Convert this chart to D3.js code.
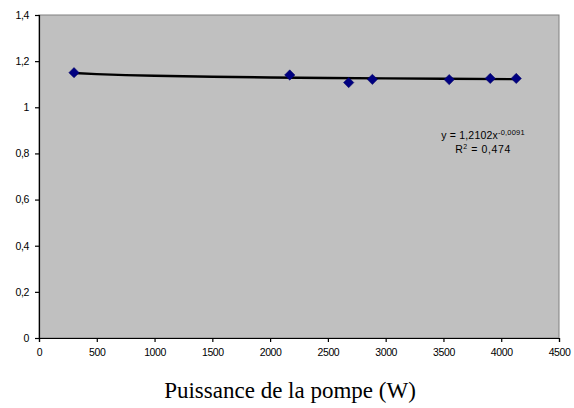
<!DOCTYPE html>
<html><head><meta charset="utf-8">
<script src="https://cdn.jsdelivr.net/npm/d3@7"></script>
<style>body{margin:0;background:#fff}svg{display:block}</style>
</head><body>
<svg id="c" width="574" height="408"></svg>
<script>
const powerW = [303, 2170, 2680, 2885, 3550, 3905, 4130];
const ratio = [1.150, 1.140, 1.107, 1.121, 1.120, 1.125, 1.125];
const xTicks = [0, 500, 1000, 1500, 2000, 2500, 3000, 3500, 4000, 4500];
const yTicks = [0, 0.2, 0.4, 0.6, 0.8, 1, 1.2, 1.4];
const trendCoef = [1.2102, -0.0091];
const trendXs = [303, 500, 750, 1000, 1500, 2000, 2500, 3000, 3500, 4130];

const svg = d3.select('#c');
const L = 39, R = 559, T = 15, B = 338;
const x = d3.scaleLinear().domain([0, 4500]).range([L, R]);
const y = d3.scaleLinear().domain([0, 1.4]).range([B, T]);
const fmt = d => String(d).replace('.', ',');

svg.append('rect').attr('x', L).attr('y', T).attr('width', R - L).attr('height', B - T)
  .attr('fill', '#c0c0c0').attr('stroke', '#808080').attr('stroke-width', 1);

const ya = svg.append('g').attr('transform', `translate(${L},0)`)
  .call(d3.axisLeft(y).tickValues(yTicks).tickFormat(fmt).tickSize(4).tickPadding(6));
const xa = svg.append('g').attr('transform', `translate(0,${B})`)
  .call(d3.axisBottom(x).tickValues(xTicks).tickFormat(d => d).tickSize(4).tickPadding(7));
[ya, xa].forEach(g => {
  g.selectAll('path,line').attr('stroke', '#000').attr('stroke-width', 1.2);
  g.selectAll('text').attr('font-family', 'Liberation Sans, Arial, sans-serif')
    .attr('font-size', 10.5).attr('fill', '#000').style('letter-spacing', '-0.4px');
});

const line = d3.line().x(d => x(d)).y(d => y(trendCoef[0] * Math.pow(d, trendCoef[1])));
svg.append('path').datum(trendXs).attr('d', line)
  .attr('fill', 'none').attr('stroke', '#000').attr('stroke-width', 2.4);

svg.selectAll('.pt').data(powerW).enter().append('path')
  .attr('transform', (d, i) => `translate(${x(d)},${y(ratio[i])})`)
  .attr('d', d3.symbol().type(d3.symbolDiamond2).size(68))
  .attr('fill', '#000080').attr('stroke', '#000060').attr('stroke-width', 0.5);

const eq = svg.append('text').attr('x', 483).attr('y', 139).attr('text-anchor', 'middle')
  .attr('font-family', 'Liberation Sans, Arial, sans-serif').attr('font-size', 10.5).style('letter-spacing', '0.2px');
eq.append('tspan').text('y = 1,2102x');
eq.append('tspan').attr('dy', -4).attr('font-size', 7.5).text('-0,0091');
const r2 = svg.append('text').attr('x', 483).attr('y', 153).attr('text-anchor', 'middle')
  .attr('font-family', 'Liberation Sans, Arial, sans-serif').attr('font-size', 10.5).style('letter-spacing', '0.6px');
r2.append('tspan').text('R');
r2.append('tspan').attr('dy', -4).attr('font-size', 7).text('2');
r2.append('tspan').attr('dy', 4).text(' = 0,474');

svg.append('text').attr('x', 290).attr('y', 398).attr('text-anchor', 'middle')
  .attr('font-family', 'Liberation Serif, Times New Roman, serif').attr('font-size', 23)
  .text('Puissance de la pompe (W)');
</script>
</body></html>
